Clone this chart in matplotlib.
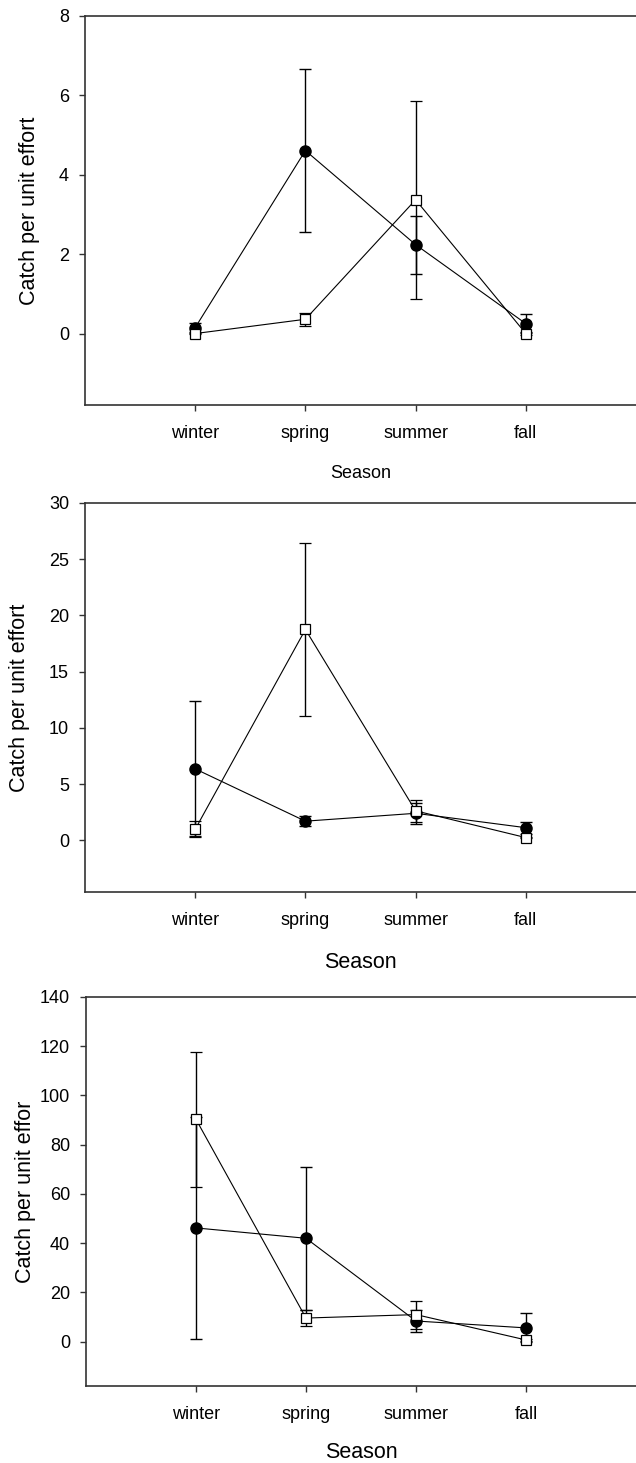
import matplotlib
matplotlib.use("Agg")
import matplotlib.pyplot as plt
from matplotlib import font_manager

plt.rcParams['font.family'] = ['Liberation Sans', 'DejaVu Sans']

seasons = ["winter", "spring", "summer", "fall"]
xpos = [1, 2, 3, 4]

# Panel 1
p1_circle = [0.15, 4.61, 2.24, 0.25]
p1_circle_err = [0.12, 2.06, 0.73, 0.24]
p1_square = [0.0, 0.36, 3.37, 0.0]
p1_square_err = [0.02, 0.17, 2.49, 0.03]
p1_ylabel = "Catch per unit effort"
p1_yticks = [0, 2, 4, 6, 8]
p1_ylim = (-1.8, 8)

# Panel 2
p2_circle = [6.35, 1.70, 2.40, 1.12]
p2_circle_err = [6.0, 0.45, 0.95, 0.52]
p2_square = [0.98, 18.75, 2.62, 0.24]
p2_square_err = [0.70, 7.70, 0.95, 0.05]
p2_ylabel = "Catch per unit effort"
p2_yticks = [0, 5, 10, 15, 20, 25, 30]
p2_ylim = (-4.6, 30)

# Panel 3
p3_circle = [46.2, 42.0, 8.4, 5.6]
p3_circle_err = [45.1, 29.1, 4.5, 5.9]
p3_square = [90.3, 9.6, 11.0, 0.7]
p3_square_err = [27.4, 3.3, 5.7, 0.3]
p3_ylabel = "Catch per unit effor"
p3_yticks = [0, 20, 40, 60, 80, 100, 120, 140]
p3_ylim = (-18, 140)

W, H = 636, 1463
fig = plt.figure(figsize=(W / 100, H / 100), dpi=100)

panels = [
    dict(c=p1_circle, ce=p1_circle_err, s=p1_square, se=p1_square_err, yl=p1_ylabel,
         yt=p1_yticks, ylim=p1_ylim, left=85, top=16, bottom=405, ylx=30, xly=68, xlsize=13),
    dict(c=p2_circle, ce=p2_circle_err, s=p2_square, se=p2_square_err, yl=p2_ylabel,
         yt=p2_yticks, ylim=p2_ylim, left=85, top=503, bottom=892, ylx=19.5, xly=71, xlsize=15.5),
    dict(c=p3_circle, ce=p3_circle_err, s=p3_square, se=p3_square_err, yl=p3_ylabel,
         yt=p3_yticks, ylim=p3_ylim, left=86, top=997, bottom=1386, ylx=26, xly=66, xlsize=15.5),
]

spine_col = '#333333'
for p in panels:
    wpx = W - p['left']
    hpx = p['bottom'] - p['top']
    ax = fig.add_axes([p['left'] / W, 1 - p['bottom'] / H, wpx / W, hpx / H])
    ax.errorbar(xpos, p['c'], yerr=p['ce'], fmt='-o', color='black', lw=0.8,
                elinewidth=1.0, capsize=4.3, capthick=1.0, markersize=8,
                markerfacecolor='black', markeredgecolor='black', zorder=3)
    ax.errorbar(xpos, p['s'], yerr=p['se'], fmt='-s', color='black', lw=0.8,
                elinewidth=1.0, capsize=4.3, capthick=1.0, markersize=6.8,
                markerfacecolor='white', markeredgecolor='black', markeredgewidth=0.9,
                zorder=4)
    ax.set_xlim(0, 5)
    ax.set_ylim(*p['ylim'])
    ax.set_xticks(xpos)
    ax.set_xticklabels(seasons)
    ax.set_yticks(p['yt'])
    ax.spines['right'].set_visible(False)
    for sp in ['left', 'top', 'bottom']:
        ax.spines[sp].set_color(spine_col)
        ax.spines[sp].set_linewidth(1.2)
    ax.tick_params(axis='x', direction='out', length=4, width=1.0, pad=10.5,
                   labelsize=13, colors=spine_col, labelcolor='black')
    ax.tick_params(axis='y', direction='out', length=4.5, width=1.0, pad=7,
                   labelsize=13, colors=spine_col, labelcolor='black')
    ax.set_ylabel(p['yl'], fontsize=15.5)
    ax.yaxis.label.set_verticalalignment('center')
    ax.yaxis.set_label_coords((p['ylx'] - p['left']) / wpx, 0.5)
    ax.set_xlabel("Season", fontsize=p['xlsize'])
    ax.xaxis.label.set_verticalalignment('center')
    ax.xaxis.set_label_coords(0.5, -p['xly'] / hpx)

fig.savefig("out.png", dpi=100)
